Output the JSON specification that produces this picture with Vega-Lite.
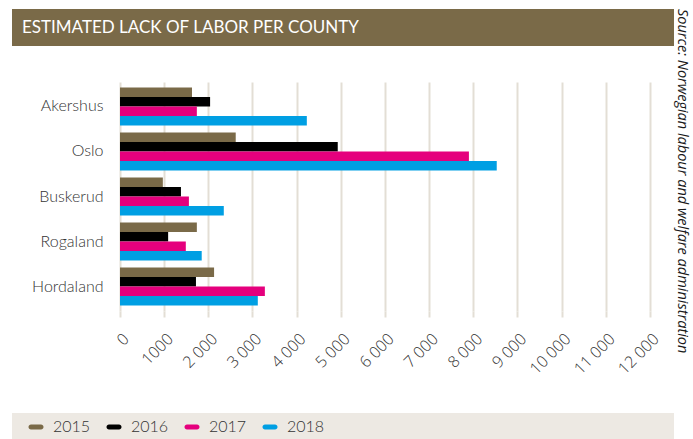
{
  "$schema": "https://vega.github.io/schema/vega-lite/v6.json",
  "background": "white",
  "padding": {"left": 12, "top": 8, "right": 2, "bottom": 0},
  "autosize": {"type": "pad"},
  "spacing": 36,
  "columns": 1,
  "title": {
    "text": "Source: Norwegian labour and welfare administration",
    "orient": "right",
    "anchor": "start",
    "angle": 90,
    "offset": 0,
    "font": "Open Sans",
    "fontStyle": "italic",
    "fontWeight": "normal",
    "fontSize": 14.5,
    "color": "#1a1a1a"
  },
  "concat": [
    {
      "width": 662,
      "height": 37,
      "data": {"values": [{"t": "ESTIMATED LACK OF LABOR PER COUNTY"}]},
      "layer": [
        {"mark": {"type": "rect", "color": "#7a6a48"}, "encoding": {}},
        {
          "mark": {"type": "text", "align": "left", "baseline": "middle", "color": "#ffffff", "font": "Lato", "fontSize": 17},
          "encoding": {"text": {"field": "t", "type": "nominal"}, "x": {"value": 10}}
        }
      ]
    },
    {
      "width": 638,
      "height": 229,
      "data": {
        "values": [
          {"county": "Akershus", "year": "2015", "value": 1630},
          {"county": "Akershus", "year": "2016", "value": 2040},
          {"county": "Akershus", "year": "2017", "value": 1740},
          {"county": "Akershus", "year": "2018", "value": 4230},
          {"county": "Oslo", "year": "2015", "value": 2620},
          {"county": "Oslo", "year": "2016", "value": 4930},
          {"county": "Oslo", "year": "2017", "value": 7900},
          {"county": "Oslo", "year": "2018", "value": 8530},
          {"county": "Buskerud", "year": "2015", "value": 970},
          {"county": "Buskerud", "year": "2016", "value": 1380},
          {"county": "Buskerud", "year": "2017", "value": 1560},
          {"county": "Buskerud", "year": "2018", "value": 2350},
          {"county": "Rogaland", "year": "2015", "value": 1740},
          {"county": "Rogaland", "year": "2016", "value": 1090},
          {"county": "Rogaland", "year": "2017", "value": 1490},
          {"county": "Rogaland", "year": "2018", "value": 1850},
          {"county": "Hordaland", "year": "2015", "value": 2130},
          {"county": "Hordaland", "year": "2016", "value": 1720},
          {"county": "Hordaland", "year": "2017", "value": 3280},
          {"county": "Hordaland", "year": "2018", "value": 3120}
        ]
      },
      "mark": {"type": "bar"},
      "encoding": {
        "y": {
          "field": "county",
          "type": "nominal",
          "sort": ["Akershus", "Oslo", "Buskerud", "Rogaland", "Hordaland"],
          "scale": {"paddingInner": 0.155, "paddingOuter": 0.12},
          "axis": {
            "title": null,
            "domain": false,
            "ticks": false,
            "grid": false,
            "offset": -108,
            "labelPadding": 17,
            "labelFont": "Lato",
            "labelFontWeight": 300,
            "labelFontSize": 16,
            "labelColor": "#333333"
          }
        },
        "x": {
          "field": "value",
          "type": "quantitative",
          "scale": {"domain": [-2445.28, 12000], "nice": false, "zero": false},
          "axis": {
            "title": null,
            "values": [0, 1000, 2000, 3000, 4000, 5000, 6000, 7000, 8000, 9000, 10000, 11000, 12000],
            "labelExpr": "datum.value == 1000 ? '1000' : replace(format(datum.value, ','), ',', ' ')",
            "labelOverlap": false,
            "grid": true,
            "gridColor": "#e3ded5",
            "gridWidth": 2,
            "domain": false,
            "tickColor": "#e3ded5",
            "tickWidth": 2,
            "tickSize": 6,
            "labelAngle": -45,
            "labelAlign": "right",
            "labelBaseline": "middle",
            "labelOffset": 6,
            "labelPadding": 19,
            "labelFont": "Open Sans",
            "labelFontWeight": 300,
            "labelFontSize": 16,
            "labelColor": "#333333"
          }
        },
        "yOffset": {"field": "year", "type": "nominal", "sort": ["2015", "2016", "2017", "2018"]},
        "color": {
          "field": "year",
          "type": "nominal",
          "scale": {"domain": ["2015", "2016", "2017", "2018"], "range": ["#7a6a48", "#000000", "#e5007d", "#009fe3"]},
          "legend": {
            "orient": "none",
            "legendX": 16,
            "legendY": 410,
            "direction": "horizontal",
            "title": null,
            "padding": 0,
            "symbolType": "M-0.67,-0.33 L0.67,-0.33 A0.33,0.33 0 0 1 0.67,0.33 L-0.67,0.33 A0.33,0.33 0 0 1 -0.67,-0.33 Z",
            "symbolSize": 225,
            "symbolStrokeWidth": 0,
            "labelFont": "Lato",
            "labelFontWeight": 300,
            "labelFontSize": 16,
            "labelColor": "#333333",
            "labelOffset": 9,
            "columnPadding": 15
          }
        }
      }
    },
    {
      "width": 662,
      "height": 32,
      "data": {"values": [{}]},
      "mark": {"type": "rect", "color": "#ede9e3"},
      "encoding": {}
    }
  ],
  "config": {
    "view": {"stroke": null}
  }
}
